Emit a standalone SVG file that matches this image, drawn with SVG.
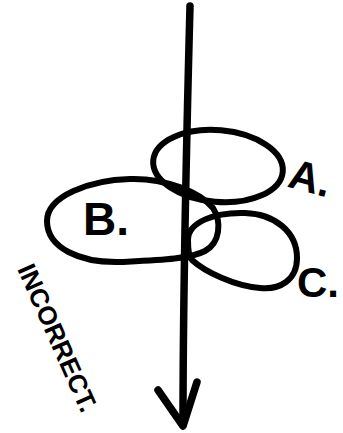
<svg xmlns="http://www.w3.org/2000/svg" width="343" height="433" viewBox="0 0 343 433">
<style>
.loop{fill:none;stroke:#000;stroke-width:6;stroke-linejoin:round;stroke-linecap:round}
.shaft{fill:none;stroke:#000;stroke-width:7.5;stroke-linecap:round;stroke-linejoin:round}
.lbl{font-family:"Liberation Sans",Arial,sans-serif;font-weight:bold;fill:#000}
</style>
<rect width="343" height="433" fill="#fff"/>
<g id="node-A">
<ellipse class="loop" cx="218" cy="166" rx="65" ry="36" transform="rotate(5 218 166)"/>
<text class="lbl" x="290" y="191" font-size="42" transform="rotate(15 305 175)">A.</text>
</g>
<g id="node-B">
<path class="loop" d="M47,221 C47,196 90,180 130,179 C165,178 200,192 213,208 C222,222 220,243 205,251 C190,259 160,260 120,262 C80,263 47,248 47,221 Z"/>
<text class="lbl" x="83" y="235" font-size="46">B.</text>
</g>
<g id="node-C">
<path class="loop" d="M188,240 C188,222 215,212 245,213 C275,214 297,232 297,258 C297,280 280,290 260,288 C235,286 205,272 192,260 C188,256 188,248 188,240 Z"/>
<text class="lbl" x="297" y="297" font-size="42">C.</text>
</g>
<g id="note">
<text class="lbl" x="0" y="0" font-size="26" transform="translate(17 269) rotate(66)">INCORRECT.</text>
</g>
<g id="connectors">
<path class="shaft" d="M190,6 C187,120 183,300 183,424"/>
<path class="shaft" d="M158,390 L183,426 L197,382"/>
</g>
</svg>
